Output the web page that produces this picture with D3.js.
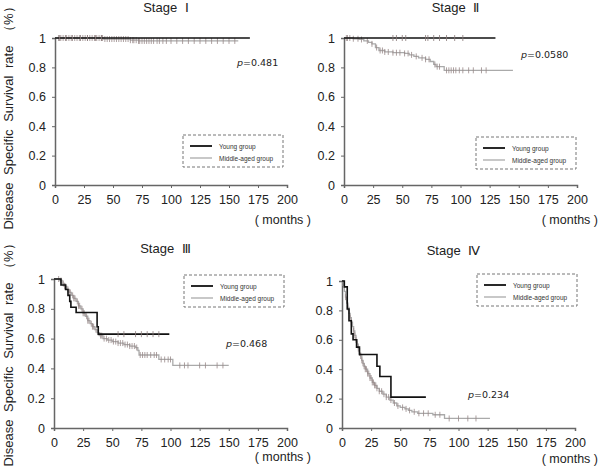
<!DOCTYPE html>
<html>
<head>
<meta charset="utf-8">
<script src="https://cdn.jsdelivr.net/npm/d3@7"></script>
<style>
  body { margin: 0; background: #fff; }
  svg text { font-family: "Liberation Sans", Arial, sans-serif; }
</style>
</head>
<body>
<svg width="600" height="469"></svg>
<script>
// Kaplan-Meier step points: [months, survival]
var stageNames = ["Stage \u2160", "Stage \u2161", "Stage \u2162", "Stage \u2163"];
var pValues = ["0.481", "0.0580", "0.468", "0.234"];
var xTicks = [0, 25, 50, 75, 100, 125, 150, 175, 200];
var yTicks = [0, 0.2, 0.4, 0.6, 0.8, 1];

var stage1Young = [[0, 1], [168, 1]];
var stage1Middle = [[0, 1], [42, 0.993], [65, 0.985], [72, 0.98], [158, 0.98]];
var stage1YoungCens = [4, 9, 15, 22, 28, 35, 40];
var stage1MiddleCens = [3, 5, 7, 10, 12, 14, 17, 19, 21, 24, 26, 28, 30, 32, 34, 36, 38, 40, 41, 43, 45, 47, 49, 51, 53,
  55, 57, 59, 61, 63, 65, 67, 68, 70, 72, 73, 75, 77, 79, 81, 83, 85, 88, 90, 93, 96, 100, 105, 110, 115, 120, 125,
  130, 135, 140, 145, 150, 155];

var stage2Young = [[0, 1], [130, 1]];
var stage2Middle = [[0, 1], [8, 0.995], [13, 0.99], [17, 0.98], [21, 0.97], [24, 0.96], [27, 0.935], [30, 0.915],
  [35, 0.905], [42, 0.9], [52, 0.895], [56, 0.885], [60, 0.875], [64, 0.865], [70, 0.855], [74, 0.84], [77, 0.82],
  [79, 0.805], [86, 0.78], [145, 0.78]];
var stage2YoungCens = [42, 45, 50, 53, 70, 72, 77, 82, 88, 95, 102];
var stage2MiddleCens = [2, 3, 5, 8, 12, 15, 20, 24, 28, 31, 33, 35, 38, 42, 45, 48, 52, 55, 58, 62, 67, 70, 73, 78,
  80, 82, 88, 90, 92, 94, 96, 99, 102, 107, 111, 118, 122];

var stage3Young = [[0, 1], [6, 0.96], [10, 0.93], [12, 0.89], [13.5, 0.85], [14.5, 0.81], [19, 0.775], [37, 0.68],
  [38, 0.63], [99, 0.63]];
var stage3Middle = [[0, 1], [5, 0.99], [7, 0.97], [9, 0.95], [11, 0.93], [13, 0.91], [15, 0.89], [17, 0.87],
  [19, 0.85], [21, 0.82], [23, 0.8], [25, 0.77], [27, 0.75], [29, 0.72], [31, 0.7], [33, 0.68], [35, 0.66],
  [37, 0.64], [39, 0.62], [42, 0.6], [46, 0.59], [50, 0.58], [55, 0.57], [60, 0.56], [65, 0.55], [70, 0.54],
  [72, 0.52], [73, 0.49], [90, 0.46], [102, 0.42], [150, 0.42]];
var stage3YoungCens = [55, 60, 70, 75, 80, 85, 90];
var stage3MiddleCens = [4, 6, 8, 9, 10, 12, 13, 14, 16, 17, 18, 20, 21, 22, 24, 25, 26, 28, 29, 30, 32, 33, 34, 36,
  38, 40, 41, 43, 45, 47, 49, 51, 53, 55, 57, 59, 61, 63, 65, 67, 69, 71, 74, 76, 78, 80, 83, 86, 88, 92, 95, 98,
  100, 108, 112, 115, 125, 130, 140, 145];

var stage4Young = [[0, 1], [2, 0.96], [4.5, 0.81], [6, 0.73], [8, 0.64], [9.5, 0.6], [12.5, 0.55], [15, 0.5],
  [30, 0.42], [32.5, 0.35], [42, 0.21], [72, 0.21]];
var stage4Middle = [[0, 1], [1, 0.97], [2, 0.93], [3, 0.89], [4, 0.85], [5, 0.82], [6, 0.78], [7, 0.75], [8, 0.72],
  [9, 0.69], [10, 0.66], [11, 0.63], [12, 0.6], [13, 0.57], [14, 0.54], [15, 0.51], [16, 0.49], [17, 0.46],
  [18, 0.44], [19, 0.42], [20, 0.4], [22, 0.37], [24, 0.34], [26, 0.31], [28, 0.29], [30, 0.27], [32, 0.25],
  [35, 0.23], [38, 0.21], [41, 0.19], [44, 0.17], [47, 0.15], [50, 0.14], [54, 0.13], [57, 0.12], [60, 0.11],
  [65, 0.1], [78, 0.09], [88, 0.065], [127, 0.065]];
var stage4YoungCens = [];
var stage4MiddleCens = [3, 5, 7, 8, 10, 11, 12, 13, 14, 15, 16, 17, 18, 19, 20, 21, 22, 23, 24, 25, 26, 27, 28, 29,
  30, 32, 34, 36, 38, 40, 42, 45, 48, 52, 55, 58, 62, 66, 70, 74, 80, 84, 92, 100, 108, 115];

var panels = [
  { left: 55, right: 287, top: 38, bottom: 185, young: stage1Young, middle: stage1Middle,
    yc: stage1YoungCens, mc: stage1MiddleCens, legend: [183, 135], p: [237, 66], months: [311, 224] },
  { left: 344, right: 577, top: 38, bottom: 185, young: stage2Young, middle: stage2Middle,
    yc: stage2YoungCens, mc: stage2MiddleCens, legend: [476, 137], p: [521, 58], months: [598, 224] },
  { left: 54, right: 287, top: 279, bottom: 428, young: stage3Young, middle: stage3Middle,
    yc: stage3YoungCens, mc: stage3MiddleCens, legend: [184, 275], p: [226, 347], months: [311, 461] },
  { left: 342, right: 575, top: 281, bottom: 428, young: stage4Young, middle: stage4Middle,
    yc: stage4YoungCens, mc: stage4MiddleCens, legend: [477, 274], p: [468, 398], months: [598, 463] }
];

var svg = d3.select("svg");

function survAt(steps, t) {
  var s = steps[0][1];
  steps.forEach(function (d) { if (d[0] <= t) s = d[1]; });
  return s;
}

panels.forEach(function (p, i) {
  var x = d3.scaleLinear().domain([0, 200]).range([p.left, p.right]);
  var y = d3.scaleLinear().domain([0, 1]).range([p.bottom, p.top]);
  var g = svg.append("g");

  // axes
  var xAxis = g.append("g").attr("transform", "translate(0," + p.bottom + ")")
    .call(d3.axisBottom(x).tickValues(xTicks).tickSize(3).tickPadding(7));
  var yAxis = g.append("g").attr("transform", "translate(" + p.left + ",0)")
    .call(d3.axisLeft(y).tickValues(yTicks).tickSize(3).tickPadding(6)
      .tickFormat(function (d) { return d === 0 || d === 1 ? d : d.toFixed(1); }));
  [xAxis, yAxis].forEach(function (a) {
    a.select(".domain").attr("stroke", "#666").attr("stroke-width", 1.5);
    a.selectAll(".tick line").attr("stroke", "#666");
    a.selectAll("text").attr("font-size", 12.5).attr("fill", "#222");
  });

  var line = d3.line().curve(d3.curveStepAfter)
    .x(function (d) { return x(d[0]); })
    .y(function (d) { return y(d[1]); });

  // middle-aged group
  g.append("path").datum(p.middle).attr("d", line)
    .attr("fill", "none").attr("stroke", "#aaa").attr("stroke-width", 1.3);
  g.selectAll(".mc").data(p.mc).enter().append("line")
    .attr("x1", function (d) { return x(d); }).attr("x2", function (d) { return x(d); })
    .attr("y1", function (d) { return y(survAt(p.middle, d)) - 3; })
    .attr("y2", function (d) { return y(survAt(p.middle, d)) + 3; })
    .attr("stroke", "#9a8a8a").attr("stroke-width", 1).attr("opacity", 0.8);

  // young group
  g.append("path").datum(p.young).attr("d", line)
    .attr("fill", "none").attr("stroke", "#111").attr("stroke-width", 1.6);
  g.selectAll(".yc").data(p.yc).enter().append("line")
    .attr("x1", function (d) { return x(d); }).attr("x2", function (d) { return x(d); })
    .attr("y1", function (d) { return y(survAt(p.young, d)) - 3; })
    .attr("y2", function (d) { return y(survAt(p.young, d)) + 3; })
    .attr("stroke", "#8a7a7a").attr("stroke-width", 1).attr("opacity", 0.8);

  // title
  g.append("text").attr("x", (p.left + p.right) / 2 - 5).attr("y", p.top - 26)
    .attr("text-anchor", "middle").attr("font-size", 13).attr("font-weight", "normal").attr("fill", "#222")
    .attr("word-spacing", 4).text(stageNames[i]);

  // p value
  var pt = g.append("text").attr("x", p.p[0]).attr("y", p.p[1])
    .attr("font-size", 9.5).attr("fill", "#222").style("font-family", "DejaVu Sans, sans-serif");
  pt.append("tspan").attr("font-style", "italic").text("p");
  pt.append("tspan").text("=" + pValues[i]);

  // months label
  g.append("text").attr("x", p.months[0]).attr("y", p.months[1]).attr("text-anchor", "end")
    .attr("font-size", 12.5).attr("fill", "#222").text("( months )");

  // legend
  var lg = g.append("g").attr("transform", "translate(" + p.legend[0] + "," + p.legend[1] + ")");
  lg.append("rect").attr("width", 100).attr("height", 32)
    .attr("fill", "none").attr("stroke", "#777").attr("stroke-dasharray", "3,2");
  lg.append("line").attr("x1", 7).attr("x2", 29).attr("y1", 11).attr("y2", 11)
    .attr("stroke", "#111").attr("stroke-width", 1.8);
  lg.append("line").attr("x1", 7).attr("x2", 29).attr("y1", 23).attr("y2", 23)
    .attr("stroke", "#aaa").attr("stroke-width", 1.3);
  lg.append("text").attr("x", 36).attr("y", 13.5).attr("font-size", 6.5).attr("fill", "#333").text("Young  group");
  lg.append("text").attr("x", 36).attr("y", 25.5).attr("font-size", 6.5).attr("fill", "#333").text("Middle-aged  group");
});

// y axis labels
[115, 352].forEach(function (cy) {
  svg.append("text").attr("transform", "translate(13," + cy + ") rotate(-90)")
    .attr("text-anchor", "middle").attr("font-size", 13).attr("fill", "#222")
    .attr("word-spacing", 4).text("Disease Specific Survival rate \uff08%\uff09");
});
</script>
</body>
</html>
